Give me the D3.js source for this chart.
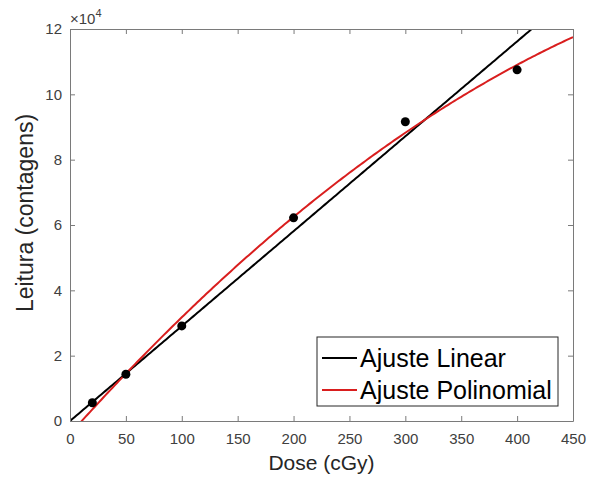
<!DOCTYPE html>
<html>
<head>
<meta charset="utf-8">
<script src="https://cdn.jsdelivr.net/npm/d3@7"></script>
<style>
body { margin: 0; background: #fff; }
svg text { font-family: "Liberation Sans", Arial, sans-serif; }
</style>
</head>
<body>
<svg width="595" height="479"></svg>
<script>
// measured points
var dose = [20, 50, 100, 200, 300, 400];
var leitura = [5600, 14300, 29100, 62200, 91600, 107500];

// fit coefficients (c0 + c1*x + c2*x^2)
var linearFit = [0, 290.5, 0];
var polyFit = [-3984, 382.1, -0.249];

var xTicks = [0, 50, 100, 150, 200, 250, 300, 350, 400, 450];
var yTicks = [0, 2, 4, 6, 8, 10, 12];

var svg = d3.select('svg');
var pLeft = 70, pRight = 573, pTop = 29, pBottom = 421;

var x = d3.scaleLinear().domain([0, 450]).range([pLeft, pRight]);
var y = d3.scaleLinear().domain([0, 120000]).range([pBottom, pTop]);

var axisCol = '#7a7a7a', textCol = '#404040';

// fit curves
function curve(c) {
    var pts = [];
    for (var d = 0; d <= 450; d += 2) pts.push([d, c[0] + c[1] * d + c[2] * d * d]);
    return pts;
}
svg.append('clipPath').attr('id', 'clip').append('rect')
    .attr('x', pLeft).attr('y', pTop).attr('width', pRight - pLeft).attr('height', pBottom - pTop);

var line = d3.line().x(d => x(d[0])).y(d => y(d[1]));
svg.append('path').datum(curve(linearFit))
    .attr('d', line).attr('fill', 'none').attr('stroke', '#000').attr('stroke-width', 2)
    .attr('clip-path', 'url(#clip)');
svg.append('path').datum(curve(polyFit))
    .attr('d', line).attr('fill', 'none').attr('stroke', '#d91e1e').attr('stroke-width', 2)
    .attr('clip-path', 'url(#clip)');

svg.selectAll('circle.pt')
    .data(dose)
    .enter().append('circle')
    .attr('class', 'pt')
    .attr('cx', d => x(d))
    .attr('cy', (d, i) => y(leitura[i]))
    .attr('r', 4.5)
    .attr('fill', '#000');

// axes
var xAxis = svg.append('g').attr('transform', 'translate(0,' + pBottom + ')')
    .call(d3.axisBottom(x).tickValues(xTicks).tickSizeInner(-5).tickSizeOuter(0).tickPadding(12));
var yAxis = svg.append('g').attr('transform', 'translate(' + pLeft + ',0)')
    .call(d3.axisLeft(y).tickValues(yTicks.map(v => v * 10000)).tickFormat(v => v / 10000)
        .tickSizeInner(-5).tickSizeOuter(0).tickPadding(8));
var xTop = svg.append('g').attr('transform', 'translate(0,' + pTop + ')')
    .call(d3.axisTop(x).tickValues(xTicks).tickSizeInner(-5).tickSizeOuter(0).tickFormat(''));
var yRight = svg.append('g').attr('transform', 'translate(' + pRight + ',0)')
    .call(d3.axisRight(y).tickValues(yTicks.map(v => v * 10000)).tickSizeInner(-5).tickSizeOuter(0).tickFormat(''));

[xAxis, yAxis, xTop, yRight].forEach(g => {
    g.select('.domain').attr('stroke', axisCol);
    g.selectAll('.tick line').attr('stroke', axisCol);
    g.selectAll('text').attr('fill', textCol).style('font-size', '15px')
        .style('font-family', '"Liberation Sans", Arial, sans-serif');
});

// exponent
var ex = svg.append('text').attr('x', 70).attr('y', 24).attr('fill', textCol).style('font-size', '15px');
ex.append('tspan').text('\u00d710');
ex.append('tspan').attr('dy', -7).style('font-size', '11px').text('4');

// axis titles
svg.append('text').attr('x', (pLeft + pRight) / 2).attr('y', 470).attr('text-anchor', 'middle')
    .attr('fill', '#262626').style('font-size', '21px').text('Dose (cGy)');
svg.append('text').attr('transform', 'translate(33,213) rotate(-90)')
    .attr('text-anchor', 'middle').attr('fill', '#262626').style('font-size', '23px')
    .text('Leitura (contagens)');

// legend
var legendNames = ['Ajuste Linear', 'Ajuste Polinomial'];
var legendColors = ['#000', '#d91e1e'];
var lg = svg.append('g');
lg.append('rect').attr('x', 317).attr('y', 337).attr('width', 241).attr('height', 69)
    .attr('fill', '#fff').attr('stroke', '#262626').attr('stroke-width', 1);
var row = lg.selectAll('g.row').data(legendNames).enter().append('g')
    .attr('transform', (d, i) => 'translate(0,' + (358 + i * 32) + ')');
row.append('line').attr('x1', 322).attr('x2', 357).attr('y1', 0).attr('y2', 0)
    .attr('stroke', (d, i) => legendColors[i]).attr('stroke-width', 2);
row.append('text').attr('x', 360).attr('y', 9).attr('fill', '#000')
    .style('font-size', '25px').text(d => d);
</script>
</body>
</html>
